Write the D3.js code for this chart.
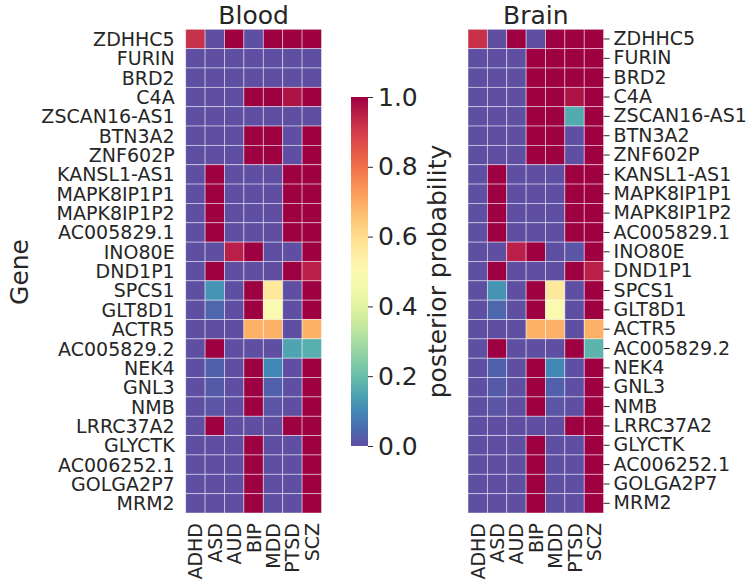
<!DOCTYPE html>
<html>
<head>
<meta charset="utf-8">
<script src="https://cdn.jsdelivr.net/npm/d3@7"></script>
<style>
  body { margin: 0; background: #fff; }
  text { font-family: "DejaVu Sans", sans-serif; fill: #262626; }
</style>
</head>
<body>
<div id="vis"></div>
<script>
const genes = [
  "ZDHHC5", "FURIN", "BRD2", "C4A", "ZSCAN16-AS1", "BTN3A2", "ZNF602P",
  "KANSL1-AS1", "MAPK8IP1P1", "MAPK8IP1P2", "AC005829.1", "INO80E", "DND1P1",
  "SPCS1", "GLT8D1", "ACTR5", "AC005829.2", "NEK4", "GNL3", "NMB", "LRRC37A2",
  "GLYCTK", "AC006252.1", "GOLGA2P7", "MRM2",
];
const traits = ["ADHD", "ASD", "AUD", "BIP", "MDD", "PTSD", "SCZ"];
const colorTicks = [0, 0.2, 0.4, 0.6, 0.8, 1.0];

// rows follow genes, columns follow traits
const blood = [
  [0.92, 0, 1, 0, 1, 1, 1],
  [0, 0, 0, 0, 0, 0, 0],
  [0, 0, 0, 0, 0, 0, 0],
  [0, 0, 0, 1, 1, 0.97, 1],
  [0, 0, 0, 0, 0, 0, 0],
  [0, 0, 0, 1, 1, 0, 1],
  [0, 0, 0, 1, 1, 0, 1],
  [0, 1, 0, 0, 0, 1, 1],
  [0, 1, 0, 0, 0, 1, 1],
  [0, 1, 0, 0, 0, 1, 1],
  [0, 1, 0, 0, 0, 1, 1],
  [0, 0, 0.95, 1, 0, 0, 1],
  [0, 1, 0, 0, 0, 1, 0.95],
  [0, 0.12, 0, 1, 0.57, 0, 1],
  [0, 0.04, 0, 1, 0.49, 0, 1],
  [0, 0, 0, 0.69, 0.69, 0, 0.69],
  [0, 1, 0, 0, 0, 0.15, 0.17],
  [0, 0.03, 0, 1, 0.1, 0, 1],
  [0, 0.02, 0, 1, 0.03, 0, 1],
  [0, 0.01, 0, 1, 0.01, 0, 1],
  [0, 1, 0, 0, 0, 1, 1],
  [0, 0, 0, 1, 0, 0, 1],
  [0, 0, 0, 1, 0, 0, 1],
  [0, 0, 0, 1, 0, 0, 1],
  [0, 0, 0, 1, 0, 0, 1],
];
const brain = [
  [0.92, 0, 1, 0, 1, 1, 1],
  [0, 0, 0, 1, 1, 1, 1],
  [0, 0, 0, 1, 1, 1, 1],
  [0, 0, 0, 1, 1, 0.97, 1],
  [0, 0, 0, 1, 1, 0.16, 1],
  [0, 0, 0, 1, 1, 0, 1],
  [0, 0, 0, 1, 1, 0, 1],
  [0, 1, 0, 0, 0, 1, 1],
  [0, 1, 0, 0, 0, 1, 1],
  [0, 1, 0, 0, 0, 1, 1],
  [0, 1, 0, 0, 0, 1, 1],
  [0, 0, 0.95, 1, 0, 0.01, 1],
  [0, 1, 0, 0, 0, 1, 0.95],
  [0, 0.12, 0, 1, 0.57, 0, 1],
  [0, 0.04, 0, 1, 0.49, 0, 1],
  [0, 0, 0, 0.69, 0.69, 0, 0.69],
  [0, 1, 0, 0, 0, 1, 0.18],
  [0, 0.03, 0, 1, 0.1, 0, 1],
  [0, 0.02, 0, 1, 0.03, 0, 1],
  [0, 0.01, 0, 1, 0.01, 0, 1],
  [0, 0, 0, 0, 0, 1, 1],
  [0, 0, 0, 1, 0, 0, 1],
  [0, 0, 0, 1, 0, 0, 1],
  [0, 0, 0, 1, 0, 0, 1],
  [0, 0, 0, 1, 0, 0, 1],
];

const W = 754, H = 584;
const plotTop = 29.3, plotBottom = 513;
const tickFont = "19px", bigFont = "25px";

const svg = d3.select("#vis").append("svg")
  .attr("width", W).attr("height", H);

const color = (v) => d3.interpolateSpectral(1 - v);

const yScale = d3.scaleBand().domain(genes).range([plotTop, plotBottom]);

function drawHeatmap(values, x0, x1, title, side) {
  const xScale = d3.scaleBand().domain(traits).range([x0, x1]);
  const g = svg.append("g");

  const cells = [];
  values.forEach((row, i) => row.forEach((v, j) => cells.push({ gene: genes[i], trait: traits[j], v })));

  g.selectAll("rect")
    .data(cells)
    .join("rect")
    .attr("x", (d) => xScale(d.trait))
    .attr("y", (d) => yScale(d.gene))
    .attr("width", xScale.bandwidth())
    .attr("height", yScale.bandwidth())
    .attr("fill", (d) => color(d.v))
    .attr("stroke", "rgba(255,255,255,0.55)")
    .attr("stroke-width", 0.8);

  // column labels
  g.selectAll(".xlab")
    .data(traits)
    .join("text")
    .attr("class", "xlab")
    .attr("transform", (d) => `translate(${xScale(d) + xScale.bandwidth() / 2},${plotBottom + 10}) rotate(-90)`)
    .attr("text-anchor", "end")
    .attr("dominant-baseline", "central")
    .style("font-size", tickFont)
    .text((d) => d);

  if (side === "left") {
    g.selectAll(".ylab")
      .data(genes)
      .join("text")
      .attr("x", x0 - 11)
      .attr("y", (d) => yScale(d) + yScale.bandwidth() / 2)
      .attr("text-anchor", "end")
      .attr("dominant-baseline", "central")
      .style("font-size", tickFont)
      .text((d) => d);
  } else {
    const axis = d3.axisRight(yScale).tickSize(6).tickPadding(4);
    const ag = g.append("g")
      .attr("transform", `translate(${x1},0)`)
      .call(axis);
    ag.select(".domain").remove();
    ag.selectAll(".tick line").attr("stroke", "#262626").attr("stroke-width", 1);
    ag.selectAll(".tick text")
      .style("font-size", tickFont)
      .style("font-family", "DejaVu Sans, sans-serif")
      .attr("fill", "#262626");
  }

  g.append("text")
    .attr("x", (x0 + x1) / 2)
    .attr("y", 23.5)
    .attr("text-anchor", "middle")
    .style("font-size", bigFont)
    .text(title);
}

drawHeatmap(blood, 185.7, 321.5, "Blood", "left");
drawHeatmap(brain, 468, 603.6, "Brain", "right");

svg.append("text")
  .attr("transform", `translate(19,272) rotate(-90)`)
  .attr("text-anchor", "middle")
  .attr("dominant-baseline", "central")
  .style("font-size", bigFont)
  .text("Gene");

// colorbar
const cbX = 351, cbW = 17, cbTop = 97, cbBottom = 446;
const defs = svg.append("defs");
const grad = defs.append("linearGradient")
  .attr("id", "cbgrad")
  .attr("x1", 0).attr("y1", 1).attr("x2", 0).attr("y2", 0);
d3.range(0, 1.0001, 0.05).forEach((t) => {
  grad.append("stop").attr("offset", t).attr("stop-color", color(t));
});
svg.append("rect")
  .attr("x", cbX).attr("y", cbTop)
  .attr("width", cbW).attr("height", cbBottom - cbTop)
  .attr("fill", "url(#cbgrad)");

const cScale = d3.scaleLinear().domain([0, 1]).range([cbBottom, cbTop]);
const cAxis = svg.append("g")
  .attr("transform", `translate(${cbX + cbW},0)`)
  .call(d3.axisRight(cScale).tickValues(colorTicks).tickFormat(d3.format(".1f")).tickSize(5).tickPadding(5));
cAxis.select(".domain").remove();
cAxis.selectAll(".tick line").attr("stroke", "#262626");
cAxis.selectAll(".tick text")
  .style("font-size", bigFont)
  .style("font-family", "DejaVu Sans, sans-serif")
  .attr("fill", "#262626");

svg.append("text")
  .attr("transform", `translate(437,${(cbTop + cbBottom) / 2}) rotate(-90)`)
  .attr("text-anchor", "middle")
  .attr("dominant-baseline", "central")
  .style("font-size", bigFont)
  .text("posterior probability");
</script>
</body>
</html>
